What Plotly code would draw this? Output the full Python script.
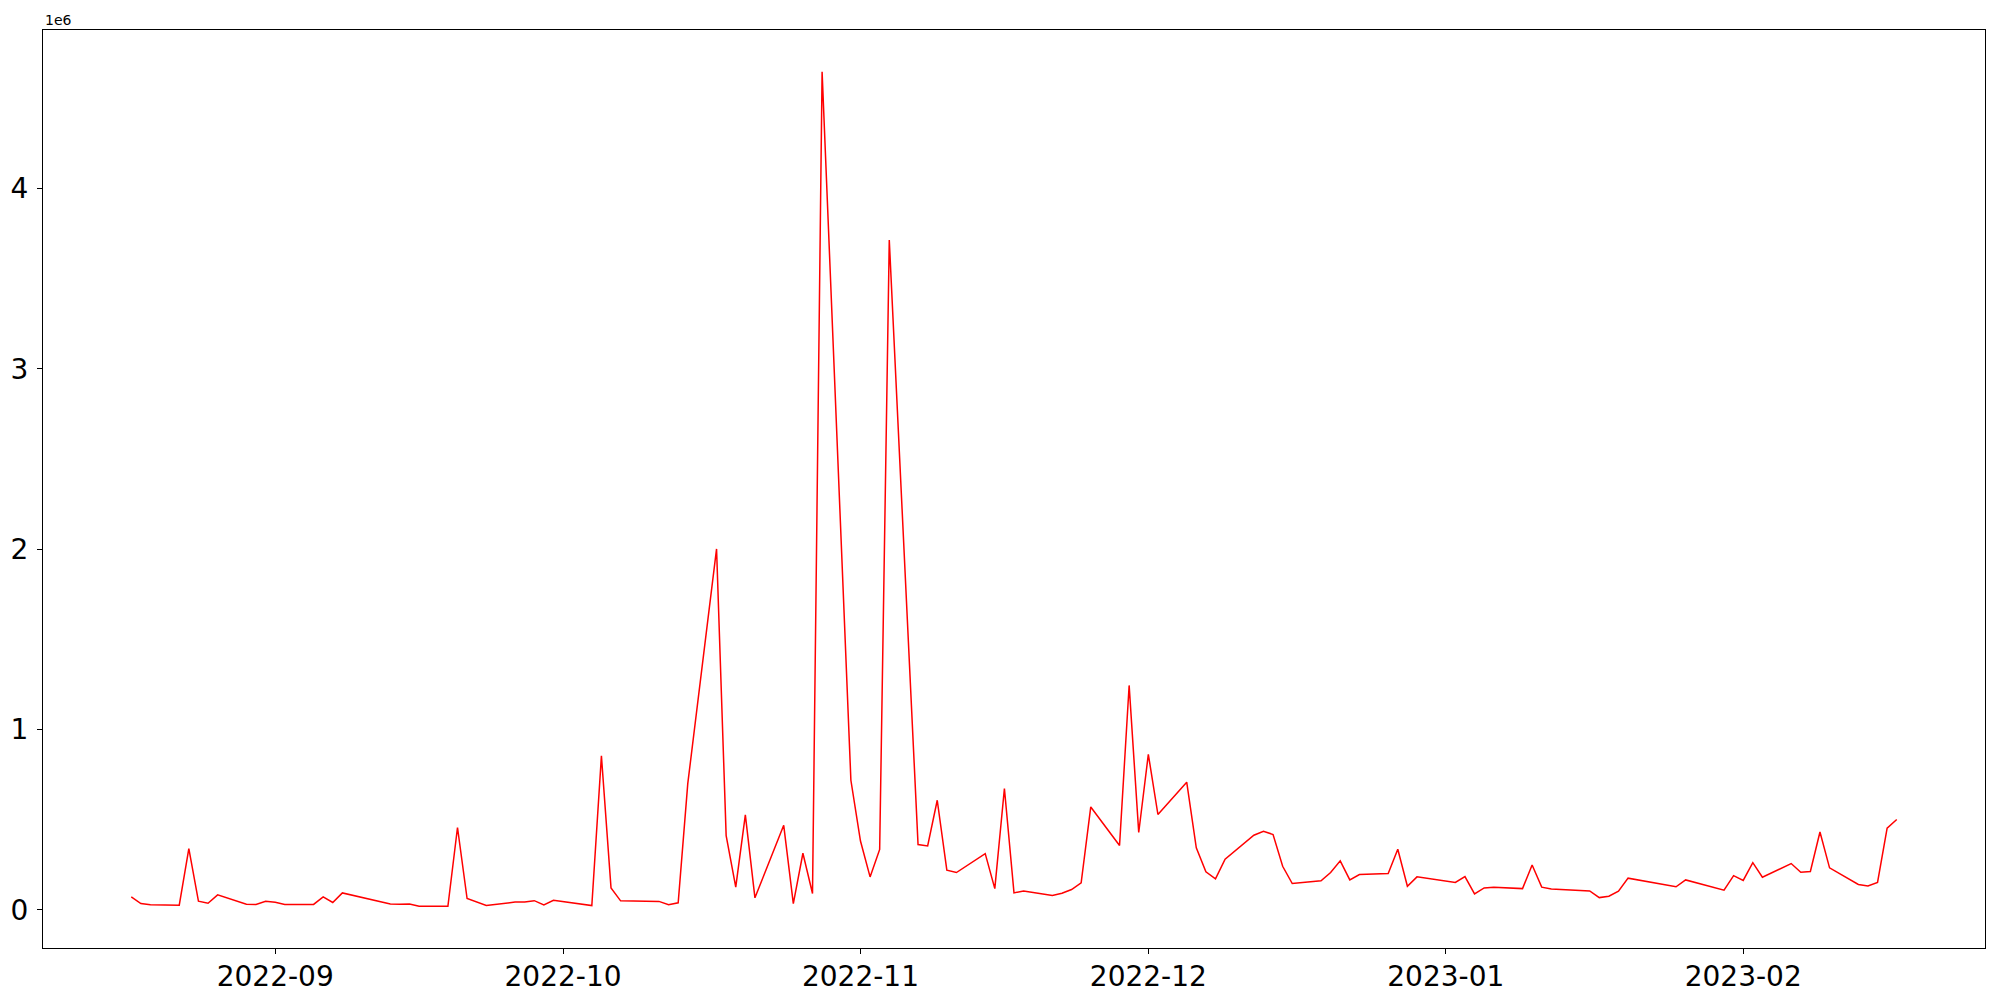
import plotly.express as px
import pandas as pd

# trading days
dates = [
    "2022-08-17", "2022-08-18", "2022-08-19", "2022-08-22", "2022-08-23", "2022-08-24",
    "2022-08-25", "2022-08-26", "2022-08-29", "2022-08-30", "2022-08-31", "2022-09-01",
    "2022-09-02", "2022-09-05", "2022-09-06", "2022-09-07", "2022-09-08", "2022-09-13",
    "2022-09-14", "2022-09-15", "2022-09-16", "2022-09-19", "2022-09-20", "2022-09-21",
    "2022-09-23", "2022-09-26", "2022-09-27", "2022-09-28", "2022-09-29", "2022-09-30",
    "2022-10-04", "2022-10-05", "2022-10-06", "2022-10-07", "2022-10-11", "2022-10-12",
    "2022-10-13", "2022-10-14", "2022-10-17", "2022-10-18", "2022-10-19", "2022-10-20",
    "2022-10-21", "2022-10-24", "2022-10-25", "2022-10-26", "2022-10-27", "2022-10-28",
    "2022-10-31", "2022-11-01", "2022-11-02", "2022-11-03", "2022-11-04", "2022-11-07",
    "2022-11-08", "2022-11-09", "2022-11-10", "2022-11-11", "2022-11-14", "2022-11-15",
    "2022-11-16", "2022-11-17", "2022-11-18", "2022-11-21", "2022-11-22", "2022-11-23",
    "2022-11-24", "2022-11-25", "2022-11-28", "2022-11-29", "2022-11-30", "2022-12-01",
    "2022-12-02", "2022-12-05", "2022-12-06", "2022-12-07", "2022-12-08", "2022-12-09",
    "2022-12-12", "2022-12-13", "2022-12-14", "2022-12-15", "2022-12-16", "2022-12-19",
    "2022-12-20", "2022-12-21", "2022-12-22", "2022-12-23", "2022-12-26", "2022-12-27",
    "2022-12-28", "2022-12-29", "2023-01-02", "2023-01-03", "2023-01-04", "2023-01-05",
    "2023-01-06", "2023-01-09", "2023-01-10", "2023-01-11", "2023-01-12", "2023-01-16",
    "2023-01-17", "2023-01-18", "2023-01-19", "2023-01-20", "2023-01-25", "2023-01-26",
    "2023-01-30", "2023-01-31", "2023-02-01", "2023-02-02", "2023-02-03", "2023-02-06",
    "2023-02-07", "2023-02-08", "2023-02-09", "2023-02-10", "2023-02-13", "2023-02-14",
    "2023-02-15", "2023-02-16", "2023-02-17",
]

volume = [
    71000, 34000, 27000, 25000, 339000, 47000,
    36000, 82000, 30000, 29000, 47000, 41000,
    29000, 29000, 71000, 40000, 93000, 32000,
    30000, 32000, 19000, 19000, 456000, 62000,
    23000, 42000, 43000, 50000, 27000, 52000,
    23000, 853000, 121000, 49000, 46000, 27000,
    38000, 699000, 2001000, 411000, 125000, 526000,
    66000, 468000, 34000, 313000, 90000, 4648000,
    718000, 381000, 182000, 334000, 3715000, 361000,
    354000, 607000, 219000, 206000, 311000, 117000,
    672000, 93000, 104000, 79000, 91000, 112000,
    149000, 570000, 356000, 1244000, 428000, 862000,
    528000, 707000, 343000, 210000, 171000, 280000,
    413000, 435000, 417000, 241000, 145000, 160000,
    206000, 271000, 165000, 195000, 201000, 335000,
    130000, 182000, 151000, 184000, 88000, 121000,
    125000, 117000, 248000, 125000, 115000, 104000,
    67000, 75000, 103000, 175000, 127000, 165000,
    108000, 189000, 162000, 261000, 180000, 256000,
    208000, 212000, 431000, 232000, 140000, 132000,
    151000, 452000, 500000,
]

y_ticks = [0, 1e6, 2e6, 3e6, 4e6]
y_tick_labels = ["0", "1", "2", "3", "4"]

df = pd.DataFrame({"date": pd.to_datetime(dates), "volume": volume})

fig = px.line(df, x="date", y="volume")
fig.update_traces(line=dict(color="red", width=1.5))

# the page body adds 8px on the left/top, margins compensate for it
fig.update_layout(
    width=2000,
    height=1000,
    paper_bgcolor="white",
    plot_bgcolor="white",
    showlegend=False,
    margin=dict(l=35, r=23, t=22, b=60),
    font=dict(family="DejaVu Sans", color="black"),
)

# matplotlib-like frame, 5% padding around the data
fig.update_xaxes(
    title=None,
    range=["2022-08-07 19:12", "2023-02-26 04:48"],
    tick0="2022-09-01",
    dtick="M1",
    tickformat="%Y-%m",
    ticks="outside",
    ticklen=5,
    tickcolor="black",
    tickfont=dict(size=28),
    ticklabelstandoff=-2,
    showgrid=False,
    zeroline=False,
    showline=True,
    linecolor="black",
    linewidth=1.2,
    mirror=True,
    automargin=False,
)
fig.update_yaxes(
    title=None,
    range=[-212500, 4879500],
    tickvals=y_ticks,
    ticktext=y_tick_labels,
    ticks="outside",
    ticklen=5,
    tickcolor="black",
    tickfont=dict(size=28),
    ticklabelstandoff=3,
    showgrid=False,
    zeroline=False,
    showline=True,
    linecolor="black",
    linewidth=1.2,
    mirror=True,
    automargin=False,
)

# offset text for the y scale
fig.add_annotation(
    xref="paper", yref="paper",
    x=0, y=1,
    xanchor="left", yanchor="bottom",
    text="1e6",
    showarrow=False,
    font=dict(size=14, color="black"),
)

fig.write_html("out.html")
